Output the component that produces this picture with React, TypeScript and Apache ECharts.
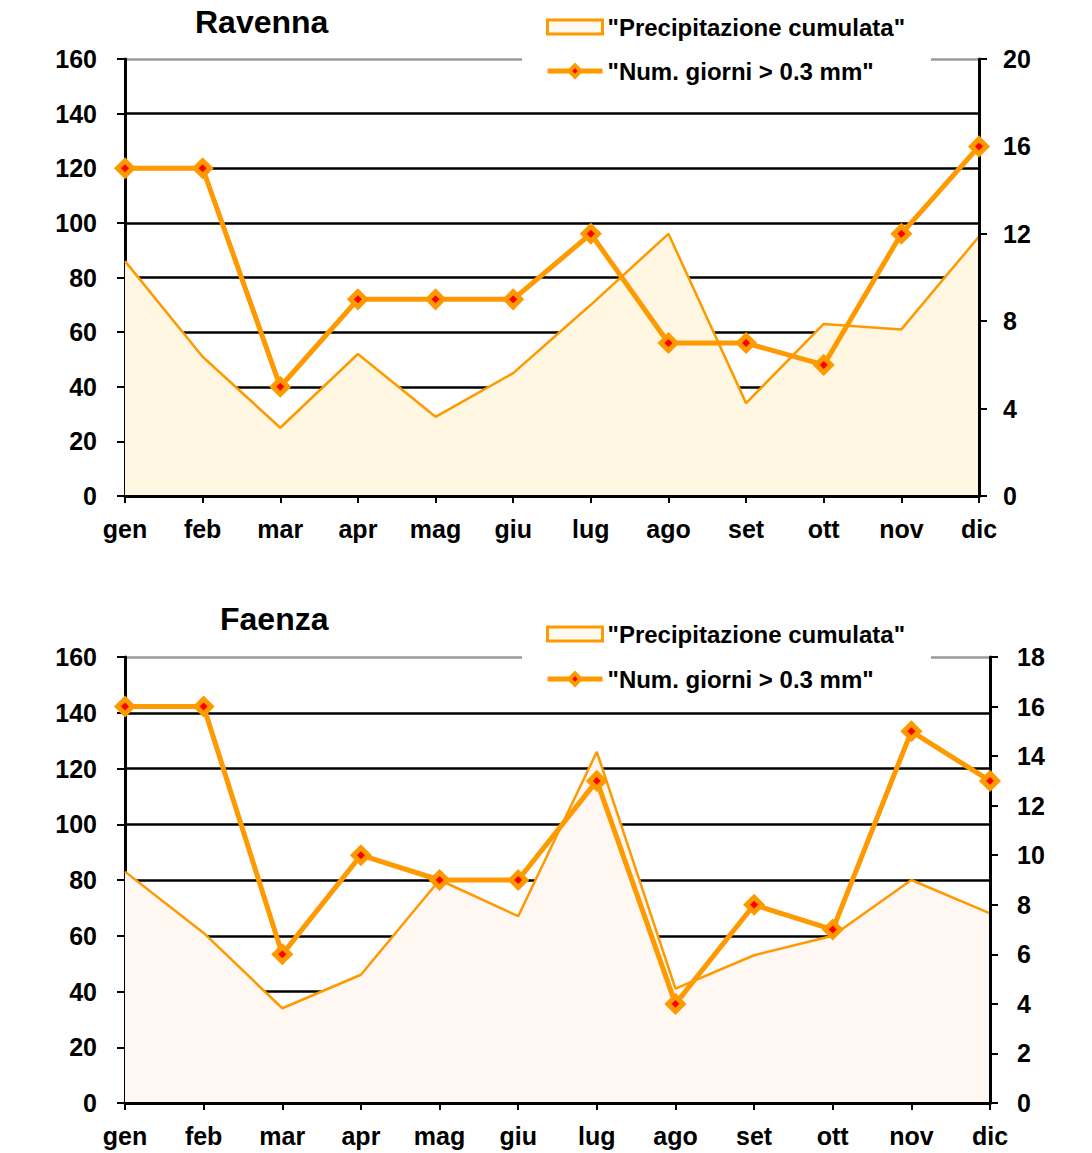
import React, { useEffect, useRef } from "react";
import * as echarts from "echarts";

const months = ["gen", "feb", "mar", "apr", "mag", "giu", "lug", "ago", "set", "ott", "nov", "dic"];

const ravennaPrecip = [86, 51, 25, 52, 29, 45, 70, 96, 34, 63, 61, 95];
const ravennaDays = [15, 15, 5, 9, 9, 9, 12, 7, 7, 6, 12, 16];

const faenzaPrecip = [83, 61, 34, 46, 80, 67, 126, 41, 53, 60, 80, 68];
const faenzaDays = [16, 16, 6, 10, 9, 9, 13, 4, 8, 7, 15, 13];

const PRECIP_NAME = '"Precipitazione cumulata"';
const DAYS_NAME = '"Num. giorni > 0.3 mm"';

const FONT = "Liberation Sans";
const ORANGE = "#FF9900";

interface Cfg {
  title: string;
  titleLeft: number;
  titleTop: number;
  legendTop: number;
  legendGap: number;
  gridTop: number;
  gridWidth: number;
  gridHeight: number;
  rightMax: number;
  rightInterval: number;
  rightMargin: number;
  fill: string;
  precip: number[];
  days: number[];
}

function buildOption(cfg: Cfg) {
  const splitColors = ["#000", "#000", "#000", "#000", "#000", "#000", "#000", "#000", "#9a9a9a"];
  const label = { fontSize: 25, fontWeight: "bold", color: "#000", fontFamily: FONT };
  return {
    animation: false,
    textStyle: { fontFamily: FONT, fontWeight: "bold" },
    title: {
      text: cfg.title,
      left: cfg.titleLeft,
      top: cfg.titleTop,
      padding: 0,
      textStyle: { fontSize: 32, fontWeight: "bold", color: "#000", fontFamily: FONT },
    },
    legend: {
      orient: "vertical",
      left: 522,
      top: cfg.legendTop,
      padding: [6, 26, 6, 23],
      itemGap: cfg.legendGap,
      itemWidth: 55,
      itemHeight: 14,
      backgroundColor: "#fff",
      textStyle: { fontSize: 24, fontWeight: "bold", color: "#000", fontFamily: FONT },
      data: [
        {
          name: PRECIP_NAME,
          icon: "rect",
          itemStyle: { color: "#fffaf0", borderColor: ORANGE, borderWidth: 3 },
        },
        {
          name: DAYS_NAME,
          lineStyle: { color: ORANGE, width: 5 },
          itemStyle: { color: "#FF0000", borderColor: ORANGE, borderWidth: 4 },
        },
      ],
    },
    grid: {
      left: 125,
      top: cfg.gridTop,
      width: cfg.gridWidth,
      height: cfg.gridHeight,
    },
    xAxis: {
      type: "category",
      data: months,
      boundaryGap: false,
      z: 5,
      axisLine: { show: true, lineStyle: { color: "#000", width: 3 } },
      axisTick: { show: true, length: 7, lineStyle: { color: "#000", width: 2 } },
      axisLabel: { ...label, margin: 20 },
      splitLine: { show: false },
    },
    yAxis: [
      {
        type: "value",
        min: 0,
        max: 160,
        interval: 20,
        position: "left",
        axisLine: { show: true, lineStyle: { color: "#000", width: 3 } },
        axisTick: { show: true, length: 8, lineStyle: { color: "#000", width: 2 } },
        axisLabel: { ...label, margin: 28 },
        splitLine: { show: true, lineStyle: { color: splitColors, width: 2.5 } },
      },
      {
        type: "value",
        min: 0,
        max: cfg.rightMax,
        interval: cfg.rightInterval,
        position: "right",
        z: 5,
        axisLine: { show: true, lineStyle: { color: "#000", width: 3 } },
        axisTick: { show: true, length: 8, lineStyle: { color: "#000", width: 2 } },
        axisLabel: { ...label, margin: cfg.rightMargin },
        splitLine: { show: false },
      },
    ],
    series: [
      {
        name: PRECIP_NAME,
        type: "line",
        data: cfg.precip,
        symbol: "none",
        lineStyle: { color: ORANGE, width: 2.5 },
        itemStyle: { color: ORANGE },
        areaStyle: { color: cfg.fill, opacity: 1 },
        z: 2,
      },
      {
        name: DAYS_NAME,
        type: "line",
        yAxisIndex: 1,
        data: cfg.days,
        symbol: "diamond",
        symbolSize: 15,
        showSymbol: true,
        lineStyle: { color: ORANGE, width: 5 },
        itemStyle: { color: "#FF0000", borderColor: ORANGE, borderWidth: 5 },
        z: 10,
      },
    ],
  };
}

function ChartBox({ cfg, top, height }: { cfg: Cfg; top: number; height: number }) {
  const ref = useRef<HTMLDivElement>(null);
  useEffect(() => {
    if (!ref.current) return;
    const chart = echarts.init(ref.current, undefined, { renderer: "svg" });
    chart.setOption(buildOption(cfg) as any);
    return () => chart.dispose();
  }, [cfg]);
  return (
    <div
      ref={ref}
      style={{ position: "absolute", left: 0, top, width: 1092, height }}
    />
  );
}

const ravennaCfg: Cfg = {
  title: "Ravenna",
  titleLeft: 195,
  titleTop: 6,
  legendTop: 9,
  legendGap: 20,
  gridTop: 59,
  gridWidth: 854,
  gridHeight: 437,
  rightMax: 20,
  rightInterval: 4,
  rightMargin: 24,
  fill: "#FFF7E2",
  precip: ravennaPrecip,
  days: ravennaDays,
};

const faenzaCfg: Cfg = {
  title: "Faenza",
  titleLeft: 220,
  titleTop: 23,
  legendTop: 36,
  legendGap: 21,
  gridTop: 77,
  gridWidth: 865,
  gridHeight: 446,
  rightMax: 18,
  rightInterval: 2,
  rightMargin: 27,
  fill: "#FFF7F2",
  precip: faenzaPrecip,
  days: faenzaDays,
};

export default function App() {
  return (
    <div style={{ position: "absolute", left: 0, top: 0, width: 1092, height: 1153, background: "#fff" }}>
      <ChartBox cfg={ravennaCfg} top={0} height={580} />
      <ChartBox cfg={faenzaCfg} top={580} height={573} />
    </div>
  );
}
